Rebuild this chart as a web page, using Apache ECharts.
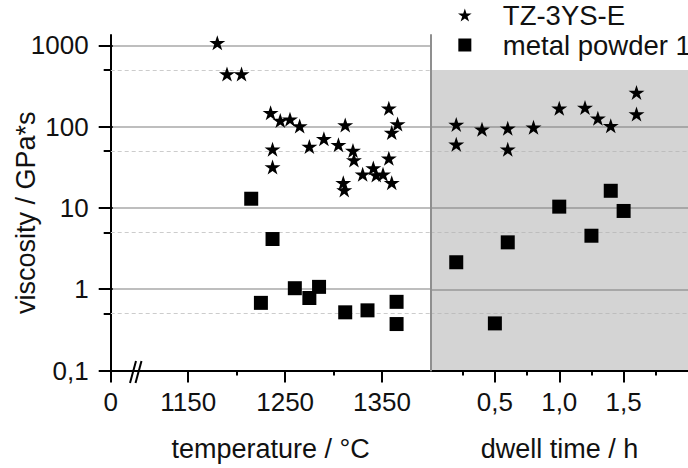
<!DOCTYPE html>
<html>
<head>
<meta charset="utf-8">
<script src="https://cdn.jsdelivr.net/npm/echarts@6/dist/echarts.min.js"></script>
<style>html,body{margin:0;padding:0;background:#fff;}#c{width:688px;height:468px;}</style>
</head>
<body>
<div id="c"></div>
<script>
// ---- data ----
const starTemp = [1180, 1190, 1205, 1235, 1245, 1255, 1265, 1237, 1237, 1275, 1290, 1305, 1312, 1320, 1321, 1310, 1311, 1330, 1341, 1344, 1351, 1357, 1360, 1357, 1366, 1360];
const starTempVisc = [1080, 445, 445, 149, 119, 124, 102, 53, 32, 57, 71, 60, 105, 51, 39, 20.5, 16.7, 26, 31, 25.5, 26, 41, 20.5, 169, 108, 85];
const powderTemp = [1215, 1237, 1225, 1260, 1275, 1285, 1312, 1335, 1365, 1365];
const powderTempVisc = [13, 4.15, 0.68, 1.03, 0.78, 1.07, 0.52, 0.55, 0.70, 0.373];
const starDwell = [0.2, 0.2, 0.4, 0.6, 0.6, 0.8, 1.0, 1.2, 1.3, 1.4, 1.6, 1.6];
const starDwellVisc = [107, 61, 93, 96, 53, 98.5, 169, 173, 127, 103, 265, 144];
const powderDwell = [0.2, 0.5, 0.6, 1.0, 1.25, 1.4, 1.5];
const powderDwellVisc = [2.15, 0.38, 3.78, 10.4, 4.56, 16.3, 9.2];

const yMajor = [0.1, 1, 10, 100, 1000];
const yMinor = [0.5, 5, 50, 500];
const tempMajor = [1070, 1150, 1250, 1350];
const tempMinor = [1200, 1300];
const dwellMajor = [0.5, 1.0, 1.5];
const dwellMinor = [0.25, 0.75, 1.25, 1.75];
const seriesNames = ['TZ-3YS-E', 'metal powder 1'];

const STAR = 'path://M50,0 L61.23,34.55 L97.55,34.55 L68.17,55.9 L79.39,90.45 L50,69.1 L20.61,90.45 L31.83,55.9 L2.45,34.55 L38.77,34.55 Z';
const SQUARE = 'path://M0,0 H10 V10 H0 Z';
const FONT = 'Liberation Sans, Arial, sans-serif';

const zip = (a, b) => a.map((v, i) => [v, b[i]]);
const fmtNum = v => String(v).replace('.', ',');

const chart = echarts.init(document.getElementById('c'), null, {renderer: 'svg'});

const AXIS_X = 110.7, TOP = 34.9, H = 335.6, YMAX = 1350;

const hLines = (vals, color, width, dashed) => ({
  silent: true, symbol: ['none', 'none'], label: {show: false},
  lineStyle: {color: color, width: width, type: dashed ? [4, 3] : 'solid'},
  emphasis: {disabled: true},
  data: vals.map(v => ({yAxis: v}))
});
const hidden = () => ({axisLine: {show: false, onZero: false}, axisTick: {show: false}, axisLabel: {show: false}, splitLine: {show: false}});
const helperX = (g, extra) => Object.assign({gridIndex: g, type: 'value', min: 0, max: 1}, hidden(), extra || {});
const helperY = (g, extra) => Object.assign({gridIndex: g, type: 'log', logBase: 10, min: 0.1, max: YMAX}, hidden(), extra || {});
const nameStyle = {fontSize: 27, color: '#111', fontFamily: FONT};

const option = {
  animation: false,
  backgroundColor: '#fff',
  textStyle: {fontFamily: FONT},
  legend: {
    data: seriesNames,
    orient: 'vertical',
    left: 458, top: 1, padding: 0,
    itemWidth: 14, itemHeight: 13, itemGap: 2,
    formatter: name => '{g| }' + name,
    textStyle: {fontSize: 27.5, color: '#111', fontFamily: FONT, rich: {g: {width: 26, fontSize: 27.5}}}
  },
  grid: [
    {left: AXIS_X, top: TOP, width: 319.8, height: H},
    {left: 430.5, top: 70, width: 300, height: 300.5, show: true, backgroundColor: '#d4d4d4', borderWidth: 0},
    {left: AXIS_X - 12, top: TOP, width: 14, height: H},       // major y ticks strip
    {left: AXIS_X - 7, top: TOP, width: 7, height: H},         // minor y ticks strip
    {left: 431, top: 70, width: 262, height: 300.5},           // holder for the dwell-time axis name
    {left: AXIS_X, top: 54.9, width: 1, height: 315.6}         // holder for the viscosity axis name
  ],
  xAxis: [
    {
      gridIndex: 0, type: 'value', min: 1070, max: 1400, position: 'bottom',
      axisLine: {onZero: false, lineStyle: {color: '#000', width: 2}},
      axisTick: {customValues: tempMajor, length: 12, lineStyle: {color: '#000', width: 2}},
      axisLabel: {customValues: tempMajor, formatter: v => (v === 1070 ? '0' : String(v)), fontSize: 26, color: '#111', margin: 18, fontFamily: FONT},
      splitLine: {show: false},
      name: 'temperature / °C', nameLocation: 'middle', nameGap: 65, nameTextStyle: nameStyle
    },
    {
      gridIndex: 0, type: 'value', min: 1070, max: 1400, position: 'bottom',
      axisLine: {show: false, onZero: false},
      axisTick: {customValues: tempMinor, length: 5, lineStyle: {color: '#000', width: 2}},
      axisLabel: {show: false}, splitLine: {show: false}
    },
    {
      gridIndex: 1, type: 'value', min: 0, max: 2, position: 'bottom',
      axisLine: {onZero: false, lineStyle: {color: '#000', width: 2}},
      axisTick: {customValues: dwellMajor, length: 12, lineStyle: {color: '#000', width: 2}},
      axisLabel: {customValues: dwellMajor, formatter: v => v.toFixed(1).replace('.', ','), fontSize: 26, color: '#111', margin: 18, fontFamily: FONT},
      splitLine: {show: false}
    },
    {
      gridIndex: 1, type: 'value', min: 0, max: 2, position: 'bottom',
      axisLine: {show: false, onZero: false},
      axisTick: {customValues: dwellMinor, length: 5, lineStyle: {color: '#000', width: 2}},
      axisLabel: {show: false}, splitLine: {show: false}
    },
    helperX(2),
    helperX(3),
    helperX(4, {name: 'dwell time / h', nameLocation: 'middle', nameGap: 65, nameTextStyle: nameStyle}),
    helperX(5)
  ],
  yAxis: [
    {
      gridIndex: 0, type: 'log', logBase: 10, min: 0.1, max: YMAX, position: 'left',
      axisLine: {onZero: false, lineStyle: {color: '#000', width: 2}},
      axisTick: {show: false},
      axisLabel: {customValues: yMajor, formatter: v => fmtNum(v), fontSize: 26, color: '#111', margin: 22, fontFamily: FONT},
      splitLine: {show: false}, minorTick: {show: false}
    },
    {
      gridIndex: 0, type: 'log', logBase: 10, min: 0.1, max: YMAX, position: 'right', z: 10,
      axisLine: {onZero: false, lineStyle: {color: '#8f8f8f', width: 2}},
      axisTick: {show: false}, axisLabel: {show: false}, splitLine: {show: false}
    },
    {
      gridIndex: 1, type: 'log', logBase: 10, min: 0.1, max: 500, position: 'left',
      axisLine: {show: false, onZero: false},
      axisTick: {show: false}, axisLabel: {show: false}, splitLine: {show: false}
    },
    helperY(2),
    helperY(3),
    helperY(4),
    helperY(5, {position: 'left', name: 'viscosity / GPa*s', nameLocation: 'middle', nameGap: 71, nameTextStyle: nameStyle})
  ],
  series: [
    {type: 'scatter', xAxisIndex: 0, yAxisIndex: 0, data: [], z: 1, silent: true,
      markLine: Object.assign(hLines(yMinor, '#cccccc', 1, true), {z: 1})},
    {type: 'scatter', xAxisIndex: 0, yAxisIndex: 0, data: [], z: 1, silent: true,
      markLine: Object.assign(hLines(yMajor.slice(1), '#a9a9a9', 1.5, false), {z: 1})},
    {type: 'scatter', xAxisIndex: 2, yAxisIndex: 2, data: [], z: 1, silent: true,
      markLine: Object.assign(hLines(yMinor.slice(0, 3), '#bdbdbd', 1, true), {z: 1})},
    {type: 'scatter', xAxisIndex: 2, yAxisIndex: 2, data: [], z: 1, silent: true,
      markLine: Object.assign(hLines(yMajor.slice(1, 4), '#999999', 1.5, false), {z: 1})},
    // y-axis ticks (major / minor) drawn on the log scale of the tick strips
    {type: 'scatter', xAxisIndex: 4, yAxisIndex: 3, data: [], z: 5, silent: true,
      markLine: Object.assign(hLines(yMajor, '#000', 2, false), {z: 5})},
    {type: 'scatter', xAxisIndex: 5, yAxisIndex: 4, data: [], z: 5, silent: true,
      markLine: Object.assign(hLines(yMinor, '#000', 2, false), {z: 5})},
    {
      name: seriesNames[0], type: 'scatter', xAxisIndex: 0, yAxisIndex: 0, z: 3,
      symbol: STAR, symbolSize: [16, 15], itemStyle: {color: '#000', opacity: 1},
      data: zip(starTemp, starTempVisc)
    },
    {
      name: seriesNames[1], type: 'scatter', xAxisIndex: 0, yAxisIndex: 0, z: 3,
      symbol: SQUARE, symbolSize: 14, itemStyle: {color: '#000', opacity: 1},
      data: zip(powderTemp, powderTempVisc)
    },
    {
      name: seriesNames[0], type: 'scatter', xAxisIndex: 2, yAxisIndex: 2, z: 3,
      symbol: STAR, symbolSize: [16, 15], itemStyle: {color: '#000', opacity: 1},
      data: zip(starDwell, starDwellVisc)
    },
    {
      name: seriesNames[1], type: 'scatter', xAxisIndex: 2, yAxisIndex: 2, z: 3,
      symbol: SQUARE, symbolSize: 14, itemStyle: {color: '#000', opacity: 1},
      data: zip(powderDwell, powderDwellVisc)
    }
  ],
  graphic: [
    {type: 'line', z: 20, shape: {x1: 130, y1: 383, x2: 136, y2: 361}, style: {stroke: '#000', lineWidth: 2}},
    {type: 'line', z: 20, shape: {x1: 135.5, y1: 383, x2: 141.5, y2: 361}, style: {stroke: '#000', lineWidth: 2}}
  ]
};
chart.setOption(option);
</script>
</body>
</html>
